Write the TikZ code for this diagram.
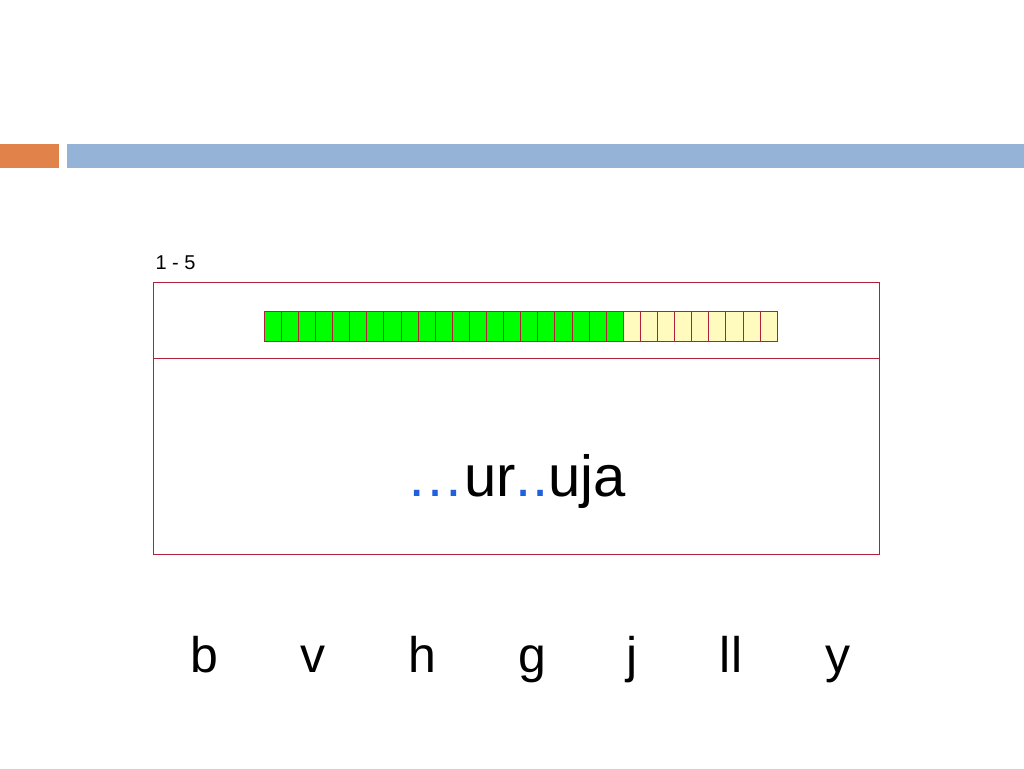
\documentclass[tikz,border=0pt]{standalone}
\usepackage{fontspec}
\setmainfont{Liberation Sans}
\definecolor{bar}{HTML}{95B3D7}
\definecolor{org}{HTML}{E0824A}
\definecolor{frame}{HTML}{B0203A}
\definecolor{yel}{HTML}{FFFBBF}
\definecolor{dotb}{HTML}{1F5FE0}
\begin{document}
\begin{tikzpicture}[x=1pt,y=-1pt,
  cell/.style={draw=frame,line width=0.6pt},
  letter/.style={anchor=base,font=\fontsize{50}{50}\selectfont}]
\useasboundingbox (0,0) rectangle (1024,768);
\fill[org] (0,144) rectangle (59,168);
\fill[bar] (67,144) rectangle (1024,168);
\node[anchor=base west,font=\fontsize{20}{20}\selectfont] (lbl) at (152,269) {1 - 5};
\draw[frame,line width=1pt] (153,282) rectangle (879,554);
\draw[frame,line width=1pt] (153,358) -- (879,358);
\foreach \i in {0,...,29}{
  \pgfmathsetmacro{\xa}{264+\i*17.1}
  \ifnum\i<21 \def\fc{green}\else\def\fc{yel}\fi
  \filldraw[cell,fill=\fc] (\xa,311) rectangle ++(17.1,30);
}
\node[anchor=base,font=\fontsize{58}{58}\selectfont] (word) at (516,496) {\textcolor{dotb}{…}ur\textcolor{dotb}{..}uja};
\node[letter] (b) at (204,672) {b};
\node[letter] (v) at (313,672) {v};
\node[letter] (h) at (422,672) {h};
\node[letter] (g) at (532,672) {g};
\node[letter] (j) at (632,672) {j};
\node[letter] (ll) at (731,672) {ll};
\node[letter] (y) at (838,672) {y};
\end{tikzpicture}
\end{document}
